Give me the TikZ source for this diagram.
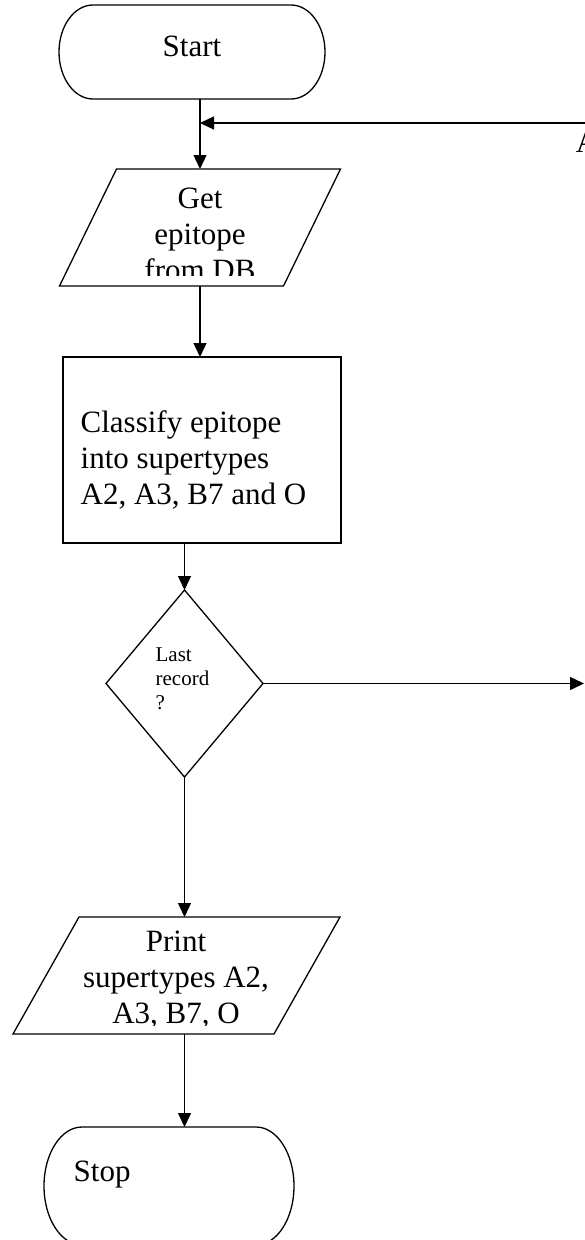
\documentclass[tikz,border=0pt]{standalone}
\usepackage{fontspec}
\setmainfont{Liberation Serif}
\usetikzlibrary{arrows.meta,shapes.geometric,calc}
\begin{document}
\begin{tikzpicture}[x=1pt,y=-1pt, line width=1.3pt,
  conn/.style={-{Triangle[length=14pt,width=13pt]}},
  big/.style={font=\fontsize{31}{36}\selectfont, inner sep=0pt},
  small/.style={font=\fontsize{21}{24}\selectfont, inner sep=0pt},
  shapebox/.style={draw=none, inner sep=0pt, outer sep=0pt},
  term/.style={draw, inner sep=0pt, outer sep=0pt},
]
\useasboundingbox (0,0) rectangle (585,1240);
\fill[white] (0,0) rectangle (585,1240);

% Start
\node[shapebox, minimum width=266pt, minimum height=94pt] (start) at (192,52) {};
\draw ($(start.north west)+(34pt,0)$) -- ($(start.north east)+(-34pt,0)$)
  arc[start angle=90, end angle=-90, x radius=34pt, y radius=47pt]
  -- ($(start.south west)+(34pt,0)$)
  arc[start angle=270, end angle=90, x radius=34pt, y radius=47pt] -- cycle;
\node[big, anchor=base] (starttxt) at (192,56) {Start};

% Get epitope from DB
\node[shapebox, minimum width=281pt, minimum height=117pt] (get) at (200,227.5) {};
\draw ($(get.north west)+(57pt,0)$) -- (get.north east) -- ($(get.south east)+(-57pt,0)$) -- (get.south west) -- cycle;
\begin{scope}
\clip (0,160) rectangle (585,275);
\node[big, align=center] (gettxt) at (200,234.5) {Get\\epitope\\from DB};
\end{scope}

% Classify
\node[term, minimum width=278pt, minimum height=186pt] (cls) at (202,450) {};
\node[big, align=left, anchor=west] (clstxt) at (80,459.6) {Classify epitope\\into supertypes\\A2, A3, B7 and O};

% Decision
\node[term, diamond, minimum width=157pt, minimum height=187pt] (dec) at (184.5,683.5) {};
\node[small, align=left, anchor=west] (dectxt) at (155,679) {Last\\record\\?};

% Print
\node[shapebox, minimum width=327pt, minimum height=117pt] (prt) at (176.5,975.5) {};
\draw ($(prt.north west)+(66pt,0)$) -- (prt.north east) -- ($(prt.south east)+(-66pt,0)$) -- (prt.south west) -- cycle;
\begin{scope}
\clip (0,900) rectangle (585,1025);
\node[big, align=center] (prttxt) at (176,980) {Print\\supertypes A2,\\A3, B7, O};
\end{scope}

% Stop
\node[shapebox, minimum width=250pt, minimum height=118pt] (stop) at (169,1186) {};
\draw ($(stop.north west)+(38pt,0)$) -- ($(stop.north east)+(-38pt,0)$)
  arc[start angle=90, end angle=-90, x radius=38pt, y radius=59pt]
  -- ($(stop.south west)+(38pt,0)$)
  arc[start angle=270, end angle=90, x radius=38pt, y radius=59pt] -- cycle;
\node[big, anchor=base west] (stoptxt) at (73,1181) {Stop};

% off-page connector label
\node[big, anchor=base] (alab) at (587,152) {A};
\coordinate (fbin) at (600,123);
\coordinate (decout) at (584,683.5);

% connectors
\draw[conn] (start.south -| get.north) -- (get.north);
\draw[conn] (fbin) -- (fbin -| get.north);
\draw[conn] (get.south) -- (get.south |- cls.north);
\draw[conn] (dec.north |- cls.south) -- (dec.north);
\draw[conn] (dec.east) -- (decout);
\draw[conn] (dec.south) -- (dec.south |- prt.north);
\draw[conn] (dec.south |- prt.south) -- (dec.south |- stop.north);
\end{tikzpicture}
\end{document}
